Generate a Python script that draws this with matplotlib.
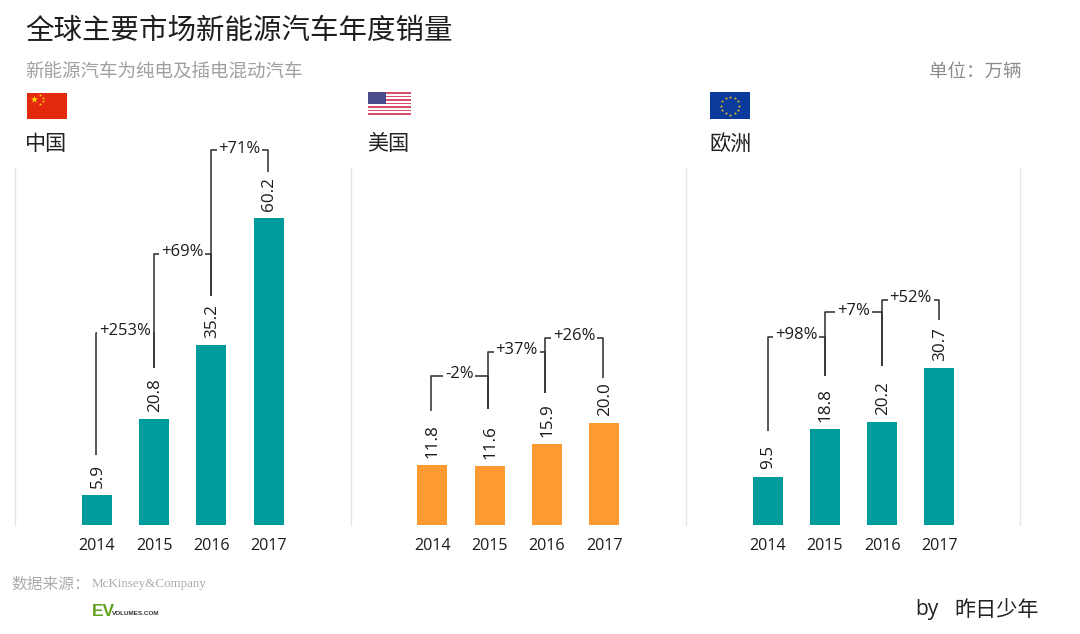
import matplotlib
matplotlib.use("Agg")
import matplotlib.pyplot as plt
from matplotlib.patches import Rectangle
import numpy as np

CJK = ['Noto Sans CJK SC', 'DejaVu Sans']
LAT = ['Open Sans', 'DejaVu Sans']
plt.rcParams['font.family'] = CJK

# ---- data ----
years = ['2014', '2015', '2016', '2017']
china_values = [5.9, 20.8, 35.2, 60.2]
usa_values = [11.8, 11.6, 15.9, 20.0]
europe_values = [9.5, 18.8, 20.2, 30.7]
china_growth = ['+253%', '+69%', '+71%']
usa_growth = ['-2%', '+37%', '+26%']
europe_growth = ['+98%', '+7%', '+52%']
china_levels = [37.7, 53.2, 73.5]
usa_levels = [29.3, 34.0, 36.7]
europe_levels = [36.9, 41.7, 44.2]
china_stems = [13.8, 30.8, 45.0, 69.2]
usa_stems = [22.4, 22.8, 25.9, 28.9]
europe_stems = [18.5, 29.3, 31.2, 40.1]
panel_names = ['中国', '美国', '欧洲']
title = '全球主要市场新能源汽车年度销量'
subtitle = '新能源汽车为纯电及插电混动汽车'
unit = '单位：万辆'

TEAL = '#009B9B'
ORANGE = '#FF9A33'
INK = '#333333'
W, H = 1080, 634
PX = 5.1       # pixels per data unit
STEP = 57.3    # pixels between bars

fig = plt.figure(figsize=(W / 100, H / 100), dpi=100, facecolor='white')

panels = [
    (14.5, 350.5, 82.3, TEAL, china_values, china_growth, china_levels, china_stems, -0.5),
    (350.5, 685.5, 81.7, ORANGE, usa_values, usa_growth, usa_levels, usa_stems, -1.5),
    (685.5, 1020.5, 82, TEAL, europe_values, europe_growth, europe_levels, europe_stems, 0),
]
TOP, BASE = 168, 525

for idx, (x0, x1, off, color, vals, growth, levels, stems, dx) in enumerate(panels):
    ax = fig.add_axes([x0 / W, (H - BASE) / H, (x1 - x0) / W, (BASE - TOP) / H])
    ax.patch.set_alpha(0)
    ax.set_xlim(-off / STEP, (x1 - x0 - off) / STEP)
    ax.set_ylim(0, (BASE - TOP) / PX)
    xs = np.arange(len(years))
    ax.bar(xs, vals, width=30 / STEP, color=color, linewidth=0)
    ax.set_xticks(xs, years, fontfamily=LAT, fontsize=11.6, color='#1c1c1c')
    ax.set_yticks([])
    ax.tick_params(axis='x', length=0, pad=9.5)
    for s in ['top', 'bottom', 'right']:
        ax.spines[s].set_visible(False)
    ax.spines['left'].set_color('#e6e6e6')
    ax.spines['left'].set_linewidth(1.0)
    if idx == 2:
        ax.spines['right'].set_visible(True)
        ax.spines['right'].set_color('#e6e6e6')
        ax.spines['right'].set_linewidth(1.0)
    for x, v in zip(xs, vals):
        ax.annotate(f'{v:.1f}', (x, v), xytext=(0.5, 5.2), textcoords='offset points',
                    rotation=90, ha='center', va='bottom', fontfamily=LAT,
                    fontsize=12.3, color='#1c1c1c')
    lx = xs + dx / STEP
    lk = dict(color=INK, lw=1.15, clip_on=False, solid_capstyle='butt', zorder=3)
    for i, (lab, lev) in enumerate(zip(growth, levels)):
        ax.plot([lx[i], lx[i], lx[i + 1], lx[i + 1]],
                [stems[i], lev, lev, stems[i + 1]], **lk)
        ax.annotate(lab, ((lx[i] + lx[i + 1]) / 2, lev), xytext=(0, 1),
                    textcoords='offset points', ha='center', va='center',
                    fontfamily=LAT, fontsize=12, color='#1c1c1c', zorder=4,
                    annotation_clip=False,
                    bbox=dict(facecolor='white', edgecolor='none', pad=1.2))

# ---- overlay in pixel coordinates: headings, flags, footer ----
ov = fig.add_axes([0, 0, 1, 1], zorder=5)
ov.set_xlim(0, W)
ov.set_ylim(H, 0)
ov.axis('off')
ov.patch.set_alpha(0)

ov.text(25, 31, title, fontsize=20.5, color='#1e1e1e', va='center', ha='left')
ov.text(25, 72, subtitle, fontsize=13.35, color='#a0a0a0', va='center', ha='left')
ov.text(1022, 72, unit, fontsize=13.35, color='#8c8c8c', va='center', ha='right')
for x, name in zip([25, 367, 709], panel_names):
    ov.text(x, 144, name, fontsize=15.2, color='#222222', va='center', ha='left')

# China flag
ov.add_patch(Rectangle((27, 93), 40, 26, color='#E32A0E', lw=0))
ov.scatter([33.5], [99], marker='*', s=30, color='#FFDE00', lw=0, zorder=3)
ov.scatter([40, 42.5, 42.5, 40], [95, 97.5, 101, 104], marker='*', s=5, color='#FFDE00', lw=0, zorder=3)

# USA flag
stripe = 23 / 13
for k in range(13):
    ov.add_patch(Rectangle((368, 92 + k * stripe), 43, stripe,
                           color='#D8506A' if k % 2 == 0 else 'white', lw=0))
ov.add_patch(Rectangle((368, 92), 18, 12.4, color='#4A4C8C', lw=0, zorder=3))

# EU flag
ov.add_patch(Rectangle((710, 92), 40, 27, color='#0A3A9C', lw=0))
ang = np.deg2rad(np.arange(0, 360, 30))
ov.scatter(730 + 9 * np.cos(ang), 105.5 + 9 * np.sin(ang), marker='*', s=6,
           color='#E8C020', lw=0, zorder=3)

# footer
ov.text(11, 584, '数据来源：', fontsize=11.3, color='#ababab', va='center', ha='left')
ov.text(92, 584, 'McKinsey&Company', fontsize=9.4, color='#ababab', va='center', ha='left',
        fontfamily='Liberation Serif')
ov.text(92, 611, 'EV', fontsize=12.5, color='#62A01E', va='center', ha='left',
        fontfamily='Liberation Sans', fontweight='bold')
ov.text(112, 613.5, 'VOLUMES.COM', fontsize=4.6, color='#333333', va='center', ha='left',
        fontfamily='Liberation Sans', fontweight='bold')
ov.text(915, 609, 'by', fontsize=15, color='#222222', va='center', ha='left', fontfamily=LAT)
ov.text(954, 610, '昨日少年', fontsize=15.2, color='#222222', va='center', ha='left')

fig.savefig('out.png', dpi=100, facecolor='white')
